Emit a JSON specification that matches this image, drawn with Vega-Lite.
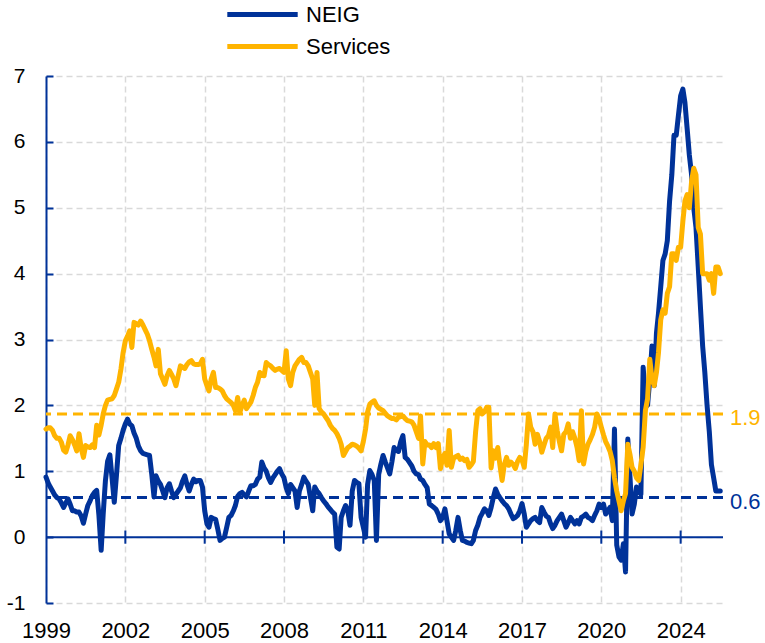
{
"$schema": "https://vega.github.io/schema/vega-lite/v6.json",
"width": 677, "height": 527,
"autosize": {"type": "none"},
"padding": {"left": 46, "top": 76, "right": 42, "bottom": 40},
"config": {"view": {"stroke": null}, "font": "Liberation Sans"},
"datasets": {
"main": [
{"d":"1999-01","NEIG":0.91,"Services":1.64},{"d":"1999-02","NEIG":0.82,"Services":1.66},{"d":"1999-03","NEIG":0.76,"Services":1.66},{"d":"1999-04","NEIG":0.70,"Services":1.62},{"d":"1999-05","NEIG":0.64,"Services":1.54},{"d":"1999-06","NEIG":0.60,"Services":1.50},{"d":"1999-07","NEIG":0.58,"Services":1.50},{"d":"1999-08","NEIG":0.52,"Services":1.44},{"d":"1999-09","NEIG":0.45,"Services":1.32},{"d":"1999-10","NEIG":0.52,"Services":1.29},{"d":"1999-11","NEIG":0.58,"Services":1.40},{"d":"1999-12","NEIG":0.50,"Services":1.54},
{"d":"2000-01","NEIG":0.40,"Services":1.48},{"d":"2000-02","NEIG":0.40,"Services":1.40},{"d":"2000-03","NEIG":0.38,"Services":1.31},{"d":"2000-04","NEIG":0.38,"Services":1.57},{"d":"2000-05","NEIG":0.32,"Services":1.35},{"d":"2000-06","NEIG":0.21,"Services":1.21},{"d":"2000-07","NEIG":0.35,"Services":1.39},{"d":"2000-08","NEIG":0.48,"Services":1.37},{"d":"2000-09","NEIG":0.55,"Services":1.36},{"d":"2000-10","NEIG":0.63,"Services":1.40},{"d":"2000-11","NEIG":0.68,"Services":1.36},{"d":"2000-12","NEIG":0.71,"Services":1.70},
{"d":"2001-01","NEIG":0.33,"Services":1.55},{"d":"2001-02","NEIG":-0.20,"Services":1.70},{"d":"2001-03","NEIG":0.35,"Services":1.87},{"d":"2001-04","NEIG":0.86,"Services":2.00},{"d":"2001-05","NEIG":1.15,"Services":2.08},{"d":"2001-06","NEIG":1.25,"Services":2.09},{"d":"2001-07","NEIG":0.90,"Services":2.10},{"d":"2001-08","NEIG":0.53,"Services":2.15},{"d":"2001-09","NEIG":0.95,"Services":2.25},{"d":"2001-10","NEIG":1.39,"Services":2.35},{"d":"2001-11","NEIG":1.50,"Services":2.55},{"d":"2001-12","NEIG":1.62,"Services":2.80},
{"d":"2002-01","NEIG":1.72,"Services":2.98},{"d":"2002-02","NEIG":1.79,"Services":3.05},{"d":"2002-03","NEIG":1.72,"Services":3.13},{"d":"2002-04","NEIG":1.69,"Services":2.88},{"d":"2002-05","NEIG":1.58,"Services":3.26},{"d":"2002-06","NEIG":1.50,"Services":3.24},{"d":"2002-07","NEIG":1.38,"Services":3.22},{"d":"2002-08","NEIG":1.31,"Services":3.28},{"d":"2002-09","NEIG":1.27,"Services":3.22},{"d":"2002-10","NEIG":1.26,"Services":3.15},{"d":"2002-11","NEIG":1.25,"Services":3.08},{"d":"2002-12","NEIG":1.24,"Services":2.98},
{"d":"2003-01","NEIG":0.95,"Services":2.85},{"d":"2003-02","NEIG":0.61,"Services":2.73},{"d":"2003-03","NEIG":0.93,"Services":2.60},{"d":"2003-04","NEIG":0.85,"Services":2.85},{"d":"2003-05","NEIG":0.80,"Services":2.48},{"d":"2003-06","NEIG":0.70,"Services":2.40},{"d":"2003-07","NEIG":0.60,"Services":2.32},{"d":"2003-08","NEIG":0.75,"Services":2.45},{"d":"2003-09","NEIG":0.81,"Services":2.53},{"d":"2003-10","NEIG":0.70,"Services":2.47},{"d":"2003-11","NEIG":0.60,"Services":2.40},{"d":"2003-12","NEIG":0.65,"Services":2.30},
{"d":"2004-01","NEIG":0.70,"Services":2.45},{"d":"2004-02","NEIG":0.75,"Services":2.60},{"d":"2004-03","NEIG":0.85,"Services":2.58},{"d":"2004-04","NEIG":0.93,"Services":2.56},{"d":"2004-05","NEIG":0.80,"Services":2.62},{"d":"2004-06","NEIG":0.70,"Services":2.66},{"d":"2004-07","NEIG":0.80,"Services":2.68},{"d":"2004-08","NEIG":0.88,"Services":2.63},{"d":"2004-09","NEIG":0.84,"Services":2.62},{"d":"2004-10","NEIG":0.86,"Services":2.62},{"d":"2004-11","NEIG":0.86,"Services":2.63},{"d":"2004-12","NEIG":0.76,"Services":2.70},
{"d":"2005-01","NEIG":0.40,"Services":2.40},{"d":"2005-02","NEIG":0.20,"Services":2.30},{"d":"2005-03","NEIG":0.15,"Services":2.22},{"d":"2005-04","NEIG":0.30,"Services":2.40},{"d":"2005-05","NEIG":0.28,"Services":2.50},{"d":"2005-06","NEIG":0.27,"Services":2.27},{"d":"2005-07","NEIG":0.12,"Services":2.27},{"d":"2005-08","NEIG":-0.05,"Services":2.25},{"d":"2005-09","NEIG":-0.02,"Services":2.22},{"d":"2005-10","NEIG":0.00,"Services":2.15},{"d":"2005-11","NEIG":0.15,"Services":2.10},{"d":"2005-12","NEIG":0.30,"Services":2.07},
{"d":"2006-01","NEIG":0.33,"Services":2.04},{"d":"2006-02","NEIG":0.40,"Services":2.00},{"d":"2006-03","NEIG":0.48,"Services":1.92},{"d":"2006-04","NEIG":0.62,"Services":2.12},{"d":"2006-05","NEIG":0.66,"Services":1.89},{"d":"2006-06","NEIG":0.68,"Services":2.00},{"d":"2006-07","NEIG":0.64,"Services":2.08},{"d":"2006-08","NEIG":0.61,"Services":1.95},{"d":"2006-09","NEIG":0.70,"Services":2.00},{"d":"2006-10","NEIG":0.78,"Services":2.05},{"d":"2006-11","NEIG":0.78,"Services":2.15},{"d":"2006-12","NEIG":0.80,"Services":2.27},
{"d":"2007-01","NEIG":0.88,"Services":2.35},{"d":"2007-02","NEIG":0.91,"Services":2.50},{"d":"2007-03","NEIG":1.14,"Services":2.47},{"d":"2007-04","NEIG":1.05,"Services":2.45},{"d":"2007-05","NEIG":1.00,"Services":2.65},{"d":"2007-06","NEIG":0.90,"Services":2.62},{"d":"2007-07","NEIG":0.83,"Services":2.60},{"d":"2007-08","NEIG":0.90,"Services":2.56},{"d":"2007-09","NEIG":0.95,"Services":2.53},{"d":"2007-10","NEIG":1.00,"Services":2.55},{"d":"2007-11","NEIG":1.04,"Services":2.56},{"d":"2007-12","NEIG":0.96,"Services":2.53},
{"d":"2008-01","NEIG":0.90,"Services":2.50},{"d":"2008-02","NEIG":0.75,"Services":2.83},{"d":"2008-03","NEIG":0.66,"Services":2.40},{"d":"2008-04","NEIG":0.80,"Services":2.30},{"d":"2008-05","NEIG":0.75,"Services":2.50},{"d":"2008-06","NEIG":0.70,"Services":2.60},{"d":"2008-07","NEIG":0.45,"Services":2.65},{"d":"2008-08","NEIG":0.70,"Services":2.70},{"d":"2008-09","NEIG":0.80,"Services":2.73},{"d":"2008-10","NEIG":0.91,"Services":2.65},{"d":"2008-11","NEIG":0.85,"Services":2.65},{"d":"2008-12","NEIG":0.80,"Services":2.60},
{"d":"2009-01","NEIG":0.60,"Services":2.50},{"d":"2009-02","NEIG":0.40,"Services":2.40},{"d":"2009-03","NEIG":0.76,"Services":2.00},{"d":"2009-04","NEIG":0.70,"Services":2.50},{"d":"2009-05","NEIG":0.66,"Services":1.95},{"d":"2009-06","NEIG":0.60,"Services":1.90},{"d":"2009-07","NEIG":0.55,"Services":1.87},{"d":"2009-08","NEIG":0.51,"Services":1.82},{"d":"2009-09","NEIG":0.46,"Services":1.77},{"d":"2009-10","NEIG":0.42,"Services":1.70},{"d":"2009-11","NEIG":0.38,"Services":1.65},{"d":"2009-12","NEIG":0.35,"Services":1.62},
{"d":"2010-01","NEIG":-0.15,"Services":1.57},{"d":"2010-02","NEIG":-0.18,"Services":1.50},{"d":"2010-03","NEIG":0.30,"Services":1.41},{"d":"2010-04","NEIG":0.40,"Services":1.24},{"d":"2010-05","NEIG":0.48,"Services":1.30},{"d":"2010-06","NEIG":0.40,"Services":1.36},{"d":"2010-07","NEIG":0.18,"Services":1.38},{"d":"2010-08","NEIG":0.70,"Services":1.41},{"d":"2010-09","NEIG":0.86,"Services":1.40},{"d":"2010-10","NEIG":0.83,"Services":1.38},{"d":"2010-11","NEIG":0.81,"Services":1.35},{"d":"2010-12","NEIG":0.30,"Services":1.31},
{"d":"2011-01","NEIG":0.15,"Services":1.45},{"d":"2011-02","NEIG":0.00,"Services":1.64},{"d":"2011-03","NEIG":0.80,"Services":1.90},{"d":"2011-04","NEIG":1.01,"Services":2.02},{"d":"2011-05","NEIG":0.95,"Services":2.05},{"d":"2011-06","NEIG":0.86,"Services":2.07},{"d":"2011-07","NEIG":-0.05,"Services":2.00},{"d":"2011-08","NEIG":0.95,"Services":1.96},{"d":"2011-09","NEIG":1.11,"Services":1.94},{"d":"2011-10","NEIG":1.24,"Services":1.92},{"d":"2011-11","NEIG":1.14,"Services":1.88},{"d":"2011-12","NEIG":1.05,"Services":1.84},
{"d":"2012-01","NEIG":0.96,"Services":1.82},{"d":"2012-02","NEIG":1.15,"Services":1.80},{"d":"2012-03","NEIG":1.36,"Services":1.80},{"d":"2012-04","NEIG":1.32,"Services":1.78},{"d":"2012-05","NEIG":1.30,"Services":1.82},{"d":"2012-06","NEIG":1.45,"Services":1.83},{"d":"2012-07","NEIG":1.54,"Services":1.84},{"d":"2012-08","NEIG":1.21,"Services":1.80},{"d":"2012-09","NEIG":1.18,"Services":1.77},{"d":"2012-10","NEIG":1.13,"Services":1.76},{"d":"2012-11","NEIG":1.08,"Services":1.75},{"d":"2012-12","NEIG":1.00,"Services":1.70},
{"d":"2013-01","NEIG":0.96,"Services":1.60},{"d":"2013-02","NEIG":0.95,"Services":1.50},{"d":"2013-03","NEIG":0.88,"Services":1.84},{"d":"2013-04","NEIG":0.86,"Services":1.11},{"d":"2013-05","NEIG":0.80,"Services":1.45},{"d":"2013-06","NEIG":0.75,"Services":1.40},{"d":"2013-07","NEIG":0.50,"Services":1.40},{"d":"2013-08","NEIG":0.48,"Services":1.36},{"d":"2013-09","NEIG":0.45,"Services":1.42},{"d":"2013-10","NEIG":0.42,"Services":1.36},{"d":"2013-11","NEIG":0.35,"Services":1.42},{"d":"2013-12","NEIG":0.25,"Services":1.04},
{"d":"2014-01","NEIG":0.30,"Services":1.20},{"d":"2014-02","NEIG":0.43,"Services":1.27},{"d":"2014-03","NEIG":0.25,"Services":1.09},{"d":"2014-04","NEIG":0.05,"Services":1.62},{"d":"2014-05","NEIG":0.00,"Services":1.06},{"d":"2014-06","NEIG":-0.05,"Services":1.20},{"d":"2014-07","NEIG":0.10,"Services":1.22},{"d":"2014-08","NEIG":0.30,"Services":1.24},{"d":"2014-09","NEIG":0.10,"Services":1.18},{"d":"2014-10","NEIG":-0.05,"Services":1.20},{"d":"2014-11","NEIG":-0.06,"Services":1.16},{"d":"2014-12","NEIG":-0.08,"Services":1.18},
{"d":"2015-01","NEIG":-0.09,"Services":1.06},{"d":"2015-02","NEIG":-0.10,"Services":1.10},{"d":"2015-03","NEIG":-0.05,"Services":1.15},{"d":"2015-04","NEIG":0.10,"Services":1.60},{"d":"2015-05","NEIG":0.18,"Services":1.92},{"d":"2015-06","NEIG":0.30,"Services":1.95},{"d":"2015-07","NEIG":0.36,"Services":1.87},{"d":"2015-08","NEIG":0.43,"Services":1.90},{"d":"2015-09","NEIG":0.40,"Services":1.97},{"d":"2015-10","NEIG":0.33,"Services":1.97},{"d":"2015-11","NEIG":0.45,"Services":1.05},{"d":"2015-12","NEIG":0.60,"Services":1.31},
{"d":"2016-01","NEIG":0.73,"Services":1.20},{"d":"2016-02","NEIG":0.65,"Services":1.36},{"d":"2016-03","NEIG":0.60,"Services":1.10},{"d":"2016-04","NEIG":0.55,"Services":0.86},{"d":"2016-05","NEIG":0.51,"Services":1.10},{"d":"2016-06","NEIG":0.48,"Services":1.21},{"d":"2016-07","NEIG":0.43,"Services":1.09},{"d":"2016-08","NEIG":0.35,"Services":1.14},{"d":"2016-09","NEIG":0.28,"Services":1.10},{"d":"2016-10","NEIG":0.30,"Services":1.04},{"d":"2016-11","NEIG":0.33,"Services":1.15},{"d":"2016-12","NEIG":0.40,"Services":1.21},
{"d":"2017-01","NEIG":0.51,"Services":1.17},{"d":"2017-02","NEIG":0.35,"Services":1.06},{"d":"2017-03","NEIG":0.15,"Services":1.40},{"d":"2017-04","NEIG":0.20,"Services":1.87},{"d":"2017-05","NEIG":0.25,"Services":1.67},{"d":"2017-06","NEIG":0.28,"Services":1.60},{"d":"2017-07","NEIG":0.30,"Services":1.41},{"d":"2017-08","NEIG":0.25,"Services":1.56},{"d":"2017-09","NEIG":0.22,"Services":1.45},{"d":"2017-10","NEIG":0.45,"Services":1.29},{"d":"2017-11","NEIG":0.38,"Services":1.40},{"d":"2017-12","NEIG":0.32,"Services":1.50},
{"d":"2018-01","NEIG":0.30,"Services":1.54},{"d":"2018-02","NEIG":0.20,"Services":1.67},{"d":"2018-03","NEIG":0.13,"Services":1.36},{"d":"2018-04","NEIG":0.18,"Services":1.87},{"d":"2018-05","NEIG":0.25,"Services":1.62},{"d":"2018-06","NEIG":0.30,"Services":1.45},{"d":"2018-07","NEIG":0.35,"Services":1.31},{"d":"2018-08","NEIG":0.25,"Services":1.56},{"d":"2018-09","NEIG":0.15,"Services":1.60},{"d":"2018-10","NEIG":0.22,"Services":1.72},{"d":"2018-11","NEIG":0.30,"Services":1.50},{"d":"2018-12","NEIG":0.25,"Services":1.60},
{"d":"2019-01","NEIG":0.20,"Services":1.50},{"d":"2019-02","NEIG":0.25,"Services":1.36},{"d":"2019-03","NEIG":0.20,"Services":1.16},{"d":"2019-04","NEIG":0.30,"Services":1.92},{"d":"2019-05","NEIG":0.32,"Services":1.11},{"d":"2019-06","NEIG":0.35,"Services":1.30},{"d":"2019-07","NEIG":0.30,"Services":1.41},{"d":"2019-08","NEIG":0.28,"Services":1.48},{"d":"2019-09","NEIG":0.25,"Services":1.56},{"d":"2019-10","NEIG":0.33,"Services":1.67},{"d":"2019-11","NEIG":0.40,"Services":1.87},{"d":"2019-12","NEIG":0.50,"Services":1.80},
{"d":"2020-01","NEIG":0.45,"Services":1.67},{"d":"2020-02","NEIG":0.50,"Services":1.55},{"d":"2020-03","NEIG":0.35,"Services":1.45},{"d":"2020-04","NEIG":0.40,"Services":1.38},{"d":"2020-05","NEIG":0.45,"Services":1.30},{"d":"2020-06","NEIG":0.25,"Services":1.16},{"d":"2020-07","NEIG":1.64,"Services":0.90},{"d":"2020-08","NEIG":-0.12,"Services":0.70},{"d":"2020-09","NEIG":-0.30,"Services":0.55},{"d":"2020-10","NEIG":-0.35,"Services":0.40},{"d":"2020-11","NEIG":-0.10,"Services":0.55},{"d":"2020-12","NEIG":-0.53,"Services":0.66},
{"d":"2021-01","NEIG":1.49,"Services":1.41},{"d":"2021-02","NEIG":0.90,"Services":1.25},{"d":"2021-03","NEIG":0.35,"Services":1.06},{"d":"2021-04","NEIG":0.50,"Services":1.00},{"d":"2021-05","NEIG":0.76,"Services":0.90},{"d":"2021-06","NEIG":0.70,"Services":0.86},{"d":"2021-07","NEIG":0.65,"Services":1.10},{"d":"2021-08","NEIG":2.58,"Services":1.36},{"d":"2021-09","NEIG":2.10,"Services":1.92},{"d":"2021-10","NEIG":2.00,"Services":2.10},{"d":"2021-11","NEIG":2.40,"Services":2.70},{"d":"2021-12","NEIG":2.90,"Services":2.40},
{"d":"2022-01","NEIG":2.30,"Services":2.30},{"d":"2022-02","NEIG":3.10,"Services":2.50},{"d":"2022-03","NEIG":3.40,"Services":2.80},{"d":"2022-04","NEIG":3.80,"Services":3.30},{"d":"2022-05","NEIG":4.20,"Services":3.45},{"d":"2022-06","NEIG":4.30,"Services":3.40},{"d":"2022-07","NEIG":4.50,"Services":3.70},{"d":"2022-08","NEIG":5.10,"Services":3.80},{"d":"2022-09","NEIG":5.50,"Services":4.30},{"d":"2022-10","NEIG":6.10,"Services":4.30},{"d":"2022-11","NEIG":6.10,"Services":4.20},{"d":"2022-12","NEIG":6.40,"Services":4.40},
{"d":"2023-01","NEIG":6.70,"Services":4.40},{"d":"2023-02","NEIG":6.80,"Services":4.80},{"d":"2023-03","NEIG":6.60,"Services":5.10},{"d":"2023-04","NEIG":6.20,"Services":5.20},{"d":"2023-05","NEIG":5.80,"Services":5.00},{"d":"2023-06","NEIG":5.50,"Services":5.40},{"d":"2023-07","NEIG":5.00,"Services":5.60},{"d":"2023-08","NEIG":4.70,"Services":5.50},{"d":"2023-09","NEIG":4.10,"Services":4.70},{"d":"2023-10","NEIG":3.50,"Services":4.60},{"d":"2023-11","NEIG":2.90,"Services":4.00},{"d":"2023-12","NEIG":2.50,"Services":4.00},
{"d":"2024-01","NEIG":2.00,"Services":4.00},{"d":"2024-02","NEIG":1.60,"Services":3.90},{"d":"2024-03","NEIG":1.10,"Services":4.00},{"d":"2024-04","NEIG":0.90,"Services":3.70},{"d":"2024-05","NEIG":0.70,"Services":4.10},{"d":"2024-06","NEIG":0.70,"Services":4.10},{"d":"2024-07","NEIG":0.70,"Services":4.00}
],
"ticks": [
{"d":"2002-01"},{"d":"2005-01"},{"d":"2008-01"},{"d":"2011-01"},{"d":"2014-01"},{"d":"2017-01"},{"d":"2020-01"},{"d":"2023-01"}
]
},
"layer": [
{
"data": {"values": [{"level": 0}]},
"mark": {"type": "rule", "color": "#003299", "strokeWidth": 2},
"encoding": {"y": {"field": "level", "type": "quantitative"}}
},
{
"data": {"name": "ticks"},
"mark": {"type": "rule", "color": "#003299", "strokeWidth": 2},
"encoding": {"x": {"field": "d", "type": "temporal"}, "y": {"datum": 0.1}, "y2": {"datum": -0.1}}
},
{
"data": {"values": [{"avg": 0.6, "label": "0.6"}]},
"layer": [
{"mark": {"type": "rule", "strokeWidth": 3, "strokeDash": [10, 6], "color": "#003299"},
 "encoding": {"y": {"field": "avg", "type": "quantitative"}}},
{"mark": {"type": "text", "align": "left", "baseline": "middle", "dx": 7, "dy": 4, "fontSize": 22, "color": "#003299"},
 "encoding": {"x": {"datum": {"year": 2024, "month": 8, "date": 8}, "type": "temporal"}, "y": {"field": "avg", "type": "quantitative"}, "text": {"field": "label"}}}
]
},
{
"data": {"values": [{"avg": 1.87, "label": "1.9"}]},
"layer": [
{"mark": {"type": "rule", "strokeWidth": 3, "strokeDash": [10, 6], "color": "#FFB400"},
 "encoding": {"y": {"field": "avg", "type": "quantitative"}}},
{"mark": {"type": "text", "align": "left", "baseline": "middle", "dx": 7, "dy": 4, "fontSize": 22, "color": "#FFB400"},
 "encoding": {"x": {"datum": {"year": 2024, "month": 8, "date": 8}, "type": "temporal"}, "y": {"field": "avg", "type": "quantitative"}, "text": {"field": "label"}}}
]
},
{
"data": {"name": "main"},
"transform": [{"fold": ["NEIG", "Services"], "as": ["series", "value"]}],
"mark": {"type": "line", "strokeWidth": 5, "strokeJoin": "round", "strokeCap": "round"},
"encoding": {
"x": {"field": "d", "type": "temporal",
"scale": {"domain": [{"year": 1999, "month": 1, "date": 1}, {"year": 2024, "month": 8, "date": 8}]},
"axis": {"title": null, "values": [{"year":1999,"month":1,"date":1},{"year":2002,"month":1,"date":1},{"year":2005,"month":1,"date":1},{"year":2008,"month":1,"date":1},{"year":2011,"month":1,"date":1},{"year":2014,"month":1,"date":1},{"year":2017,"month":1,"date":1},{"year":2020,"month":1,"date":1},{"year":2023,"month":1,"date":1}],
"format": "%Y", "labelExpr": "datum.label == '2023' ? '2024' : datum.label",
"domain": false, "ticks": false, "labelPadding": 17, "labelFontSize": 22, "labelColor": "#000000",
"labelFlush": false, "labelOverlap": false, "gridColor": "#d9d9d9", "gridDash": [6, 4], "gridWidth": 1.5}},
"y": {"field": "value", "type": "quantitative",
"scale": {"domain": [-1, 7], "nice": false, "zero": false},
"axis": {"title": null, "values": [-1,0,1,2,3,4,5,6,7], "labelExpr": "toString(datum.value)", "domainColor": "#003299", "domainWidth": 2,
"tickColor": "#003299", "tickWidth": 2, "tickSize": -7, "labelPadding": 28, "labelFontSize": 21, "labelColor": "#000000",
"gridColor": "#d9d9d9", "gridDash": [6, 4], "gridWidth": 1.5}},
"color": {"field": "series", "type": "nominal",
"scale": {"domain": ["NEIG", "Services"], "range": ["#003299", "#FFB400"]},
"legend": {"title": null, "orient": "none", "legendX": 203, "legendY": -75, "direction": "vertical",
"symbolType": "M-3.2,0H3.2", "symbolSize": 484, "symbolStrokeWidth": 5,
"labelFontSize": 22, "labelColor": "#000000", "labelOffset": 30, "rowPadding": 7, "padding": 0}}
}
}
]
}
